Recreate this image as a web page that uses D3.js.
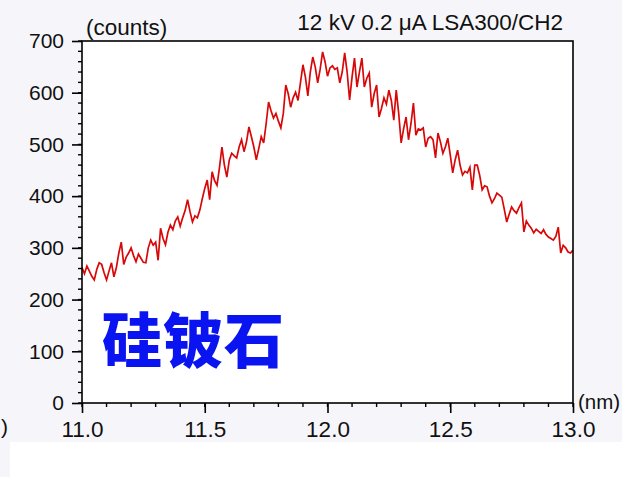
<!DOCTYPE html>
<html>
<head>
<meta charset="utf-8">
<script src="https://cdn.jsdelivr.net/npm/d3@7"></script>
<style>
  html, body { margin: 0; padding: 0; background: #f6f6fa; }
  svg { display: block; }
  text { font-family: "Liberation Sans", Arial, sans-serif; fill: #111; }
</style>
</head>
<body>
<svg id="chart" width="622" height="477"></svg>
<script>
// Wavelength grid (nm): 11.00 .. 13.00 in 0.01 nm steps
const wlStart = 11.0;
const wlStep = 0.01;

// Measured intensity (counts) at each wavelength step
const counts = [
  262, 250, 265, 255, 245, 238, 258, 271, 268, 252,
  238, 255, 271, 244, 262, 290, 311, 268, 282, 290,
  300, 285, 273, 288, 280, 272, 271, 300, 315, 305,
  311, 276, 338, 318, 306, 330, 344, 335, 352, 360,
  342, 358, 372, 393, 370, 350, 362, 358, 373, 395,
  415, 431, 393, 447, 430, 421, 455, 495, 460, 437,
  470, 483, 478, 474, 495, 509, 486, 505, 534, 515,
  495, 470, 492, 515, 503, 540, 582, 565, 551, 560,
  545, 532, 560, 615, 598, 572, 590, 601, 585, 620,
  654, 630, 594, 640, 669, 650, 619, 645, 679, 660,
  632, 648, 652, 645, 648, 619, 640, 677, 640, 586,
  630, 667, 611, 640, 667, 611, 628, 638, 572, 598,
  615, 553, 570, 590, 578, 605, 585, 547, 605, 560,
  503, 530, 553, 509, 540, 580, 518, 530, 528, 532,
  495, 512, 515, 509, 474, 522, 505, 483, 495, 512,
  480, 445, 470, 489, 460, 441, 448, 445, 456, 412,
  460, 460, 440, 412, 420, 418, 400, 387, 395, 406,
  402, 398, 375, 350, 365, 379, 372, 367, 378, 387,
  331, 352, 344, 338, 329, 336, 332, 328, 335, 326,
  321, 318, 315, 322, 340, 290, 305, 300, 292, 290,
  296
];

// Axis ticks and labels
const xMajorTicks = [11.0, 11.5, 12.0, 12.5, 13.0];
const xMinorTicks = d3.range(110, 131).map(v => v / 10);
const yMajorTicks = [0, 100, 200, 300, 400, 500, 600, 700];
const yMinorTicks = d3.range(0, 701, 20);

const titleText = "12 kV 0.2 \u03bcA LSA300/CH2";
const yUnit = "(counts)";
const xUnit = "(nm)";
const mineralName = "硅铍石";

const svg = d3.select("#chart");
const plot = { left: 82, right: 573, top: 41, bottom: 403 };

const x = d3.scaleLinear().domain([11.0, 13.0]).range([plot.left, plot.right]);
const y = d3.scaleLinear().domain([0, 700]).range([plot.bottom, plot.top]);

// lower band of the figure
svg.append("rect").attr("x", 10).attr("y", 442).attr("width", 612).attr("height", 35).attr("fill", "#ffffff");

// plot area
svg.append("rect")
  .attr("x", plot.left).attr("y", plot.top)
  .attr("width", plot.right - plot.left).attr("height", plot.bottom - plot.top)
  .attr("fill", "#ffffff");

const data = counts.map((c, i) => ({ wl: wlStart + i * wlStep, c }));

// spectrum trace
svg.append("path")
  .datum(data)
  .attr("fill", "none")
  .attr("stroke", "#d80808")
  .attr("stroke-width", 1.7)
  .attr("stroke-linejoin", "miter")
  .attr("d", d3.line().x(d => x(d.wl)).y(d => y(d.c)));

// left axis: major ticks with labels
const yAxis = d3.axisLeft(y).tickValues(yMajorTicks).tickSize(10).tickPadding(8).tickFormat(d3.format("d"));
const gy = svg.append("g").attr("transform", `translate(${plot.left},0)`).call(yAxis);
gy.select(".domain").remove();
gy.selectAll("line").attr("stroke", "#000").attr("stroke-width", 1.6);
gy.selectAll("text").attr("font-size", 21).attr("fill", "#111")
  .style("font-family", "'Liberation Sans', Arial, sans-serif");

// left axis: minor ticks
svg.append("g").selectAll("line").data(yMinorTicks).join("line")
  .attr("x1", plot.left - 4).attr("x2", plot.left)
  .attr("y1", d => y(d)).attr("y2", d => y(d))
  .attr("stroke", "#000").attr("stroke-width", 1.4);

// bottom axis: major ticks with labels
const xAxis = d3.axisBottom(x).tickValues(xMajorTicks).tickSize(10).tickPadding(8).tickFormat(d3.format(".1f"));
const gx = svg.append("g").attr("transform", `translate(0,${plot.bottom})`).call(xAxis);
gx.select(".domain").remove();
gx.selectAll("line").attr("stroke", "#000").attr("stroke-width", 1.6);
gx.selectAll("text").attr("font-size", 22.5).attr("fill", "#111")
  .style("font-family", "'Liberation Sans', Arial, sans-serif");

// bottom axis: minor ticks
svg.append("g").selectAll("line").data(xMinorTicks).join("line")
  .attr("x1", d => x(d)).attr("x2", d => x(d))
  .attr("y1", plot.bottom).attr("y2", plot.bottom + 4)
  .attr("stroke", "#000").attr("stroke-width", 1.4);

// frame
svg.append("rect")
  .attr("x", plot.left).attr("y", plot.top)
  .attr("width", plot.right - plot.left).attr("height", plot.bottom - plot.top)
  .attr("fill", "none").attr("stroke", "#000").attr("stroke-width", 1.6);

// unit labels and acquisition settings
svg.append("text").attr("x", 86).attr("y", 35).attr("font-size", 22.5).text(yUnit);
svg.append("text").attr("x", 563).attr("y", 30).attr("text-anchor", "end").attr("font-size", 22.5).text(titleText);
svg.append("text").attr("x", 578).attr("y", 409).attr("font-size", 20.5).text(xUnit);
svg.append("text").attr("x", 1).attr("y", 434).attr("font-size", 21).text(")");

// mineral name
svg.append("text")
  .attr("x", 102).attr("y", 363)
  .attr("font-size", 60)
  .attr("font-weight", 900)
  .attr("letter-spacing", 1)
  .style("font-family", "'Noto Sans CJK SC', sans-serif")
  .style("fill", "#0a14f0")
  .text(mineralName);
</script>
</body>
</html>
